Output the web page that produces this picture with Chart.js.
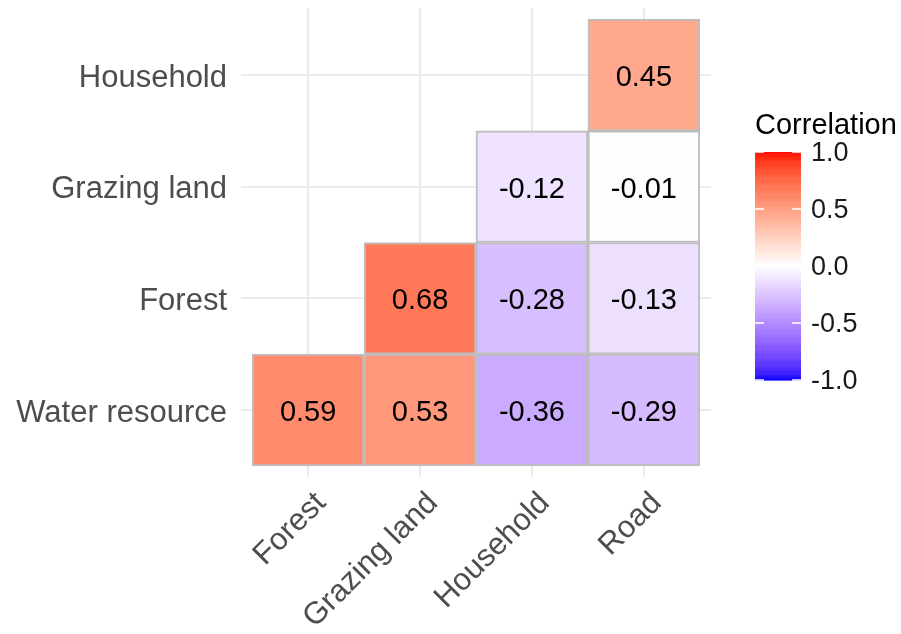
<!DOCTYPE html>
<html>
<head>
<meta charset="utf-8">
<script src="https://cdn.jsdelivr.net/npm/chart.js@4.4.1/dist/chart.umd.min.js"></script>
<style>
  html, body { margin: 0; padding: 0; background: #fff; }
  #wrap { width: 901px; height: 634px; }
</style>
</head>
<body>
<div id="wrap"><canvas id="chart" width="901" height="634"></canvas></div>
<script>
// Categories
const xCategories = ['Forest', 'Grazing land', 'Household', 'Road'];
const yCategories = ['Water resource', 'Forest', 'Grazing land', 'Household'];

// Correlation values per row (columns follow xCategories), lower triangle only
const rowWater = [0.59, 0.53, -0.36, -0.29];
const rowForest = [null, 0.68, -0.28, -0.13];
const rowGrazing = [null, null, -0.12, -0.01];
const rowHousehold = [null, null, null, 0.45];
const rows = [rowWater, rowForest, rowGrazing, rowHousehold];

// Legend
const legendTitle = 'Correlation';
const legendTicks = [1.0, 0.5, 0.0, -0.5, -1.0];

const FONT = "'Liberation Sans', Arial, sans-serif";

// --- diverging blue-white-red in Lab space ---
function toLab(rgb) {
  const lin = rgb.map(c => { c /= 255; return c <= 0.04045 ? c / 12.92 : Math.pow((c + 0.055) / 1.055, 2.4); });
  const X = (0.4124 * lin[0] + 0.3576 * lin[1] + 0.1805 * lin[2]) / 0.95047;
  const Y = (0.2126 * lin[0] + 0.7152 * lin[1] + 0.0722 * lin[2]);
  const Z = (0.0193 * lin[0] + 0.1192 * lin[1] + 0.9505 * lin[2]) / 1.08883;
  const f = t => t > 0.008856 ? Math.cbrt(t) : 7.787 * t + 16 / 116;
  const fx = f(X), fy = f(Y), fz = f(Z);
  return [116 * fy - 16, 500 * (fx - fy), 200 * (fy - fz)];
}
function fromLab(lab) {
  const fy = (lab[0] + 16) / 116, fx = fy + lab[1] / 500, fz = fy - lab[2] / 200;
  const inv = t => t * t * t > 0.008856 ? t * t * t : (t - 16 / 116) / 7.787;
  const X = inv(fx) * 0.95047, Y = inv(fy), Z = inv(fz) * 1.08883;
  const r = 3.2406 * X - 1.5372 * Y - 0.4986 * Z;
  const g = -0.9689 * X + 1.8758 * Y + 0.0415 * Z;
  const b = 0.0557 * X - 0.2040 * Y + 1.0570 * Z;
  return [r, g, b].map(c => {
    c = c <= 0.0031308 ? 12.92 * c : 1.055 * Math.pow(c, 1 / 2.4) - 0.055;
    return Math.round(Math.max(0, Math.min(1, c)) * 255);
  });
}
const labLow = toLab([0, 0, 255]), labMid = toLab([255, 255, 255]), labHigh = toLab([255, 0, 0]);
function corrColor(v) {
  const end = v >= 0 ? labHigh : labMid;
  const start = v >= 0 ? labMid : labLow;
  const t = v >= 0 ? v : v + 1;
  const lab = start.map((s, i) => s + (end[i] - s) * t);
  const c = fromLab(lab);
  return `rgb(${c[0]},${c[1]},${c[2]})`;
}

// Build cells
const cells = [];
rows.forEach((row, yi) => {
  row.forEach((v, xi) => {
    if (v === null) return;
    cells.push({ x: xi + 1, y: [yi + 0.5, yi + 1.5], v: v });
  });
});

const cellLabels = {
  id: 'cellLabels',
  afterDatasetsDraw(chart) {
    const ctx = chart.ctx;
    const meta = chart.getDatasetMeta(0);
    ctx.save();
    ctx.font = `29px ${FONT}`;
    ctx.fillStyle = '#000';
    ctx.textAlign = 'center';
    ctx.textBaseline = 'middle';
    meta.data.forEach((bar, i) => {
      const p = bar.getProps(['x', 'y', 'base'], true);
      ctx.fillText(cells[i].v.toFixed(2), p.x, (p.y + p.base) / 2 + 3);
    });
    ctx.restore();
  }
};

const colorBar = {
  id: 'colorBar',
  afterDraw(chart) {
    const ctx = chart.ctx;
    const x0 = 755, w = 46, top = 152, bottom = 380;
    ctx.save();
    ctx.font = `29px ${FONT}`;
    ctx.fillStyle = '#000';
    ctx.textAlign = 'left';
    ctx.textBaseline = 'middle';
    ctx.fillText(legendTitle, x0, 126);
    const steps = 200;
    for (let i = 0; i < steps; i++) {
      const v = 1 - 2 * (i + 0.5) / steps;
      ctx.fillStyle = corrColor(v);
      const y = top + (bottom - top) * i / steps;
      ctx.fillRect(x0, y, w, (bottom - top) / steps + 0.6);
    }
    ctx.strokeStyle = '#fff';
    ctx.lineWidth = 1.5;
    ctx.font = `27px ${FONT}`;
    ctx.fillStyle = '#1a1a1a';
    legendTicks.forEach(t => {
      const y = top + (1 - t) / 2 * (bottom - top);
      ctx.beginPath();
      ctx.moveTo(x0, y); ctx.lineTo(x0 + 9, y);
      ctx.moveTo(x0 + w - 9, y); ctx.lineTo(x0 + w, y);
      ctx.stroke();
      ctx.fillText(t.toFixed(1), 811, y + 2);
    });
    ctx.restore();
  }
};

new Chart(document.getElementById('chart'), {
  type: 'bar',
  data: {
    datasets: [{
      data: cells,
      backgroundColor: cells.map(c => corrColor(c.v)),
      borderColor: '#bebebe',
      borderWidth: 2,
      borderSkipped: false,
      categoryPercentage: 1,
      barPercentage: 1
    }]
  },
  options: {
    responsive: false,
    animation: false,
    layout: { padding: { top: 8, right: 190, left: 0, bottom: 0 } },
    plugins: { legend: { display: false }, tooltip: { enabled: false } },
    scales: {
      x: {
        type: 'linear',
        min: 0.4,
        max: 4.6,
        offset: false,
        afterBuildTicks: s => { s.ticks = xCategories.map((_, i) => ({ value: i + 1 })); },
        afterFit: s => { s.height = 157; s.paddingLeft = 0; s.paddingRight = 0; },
        grid: { color: '#ebebeb', lineWidth: 2, drawTicks: false, offset: false },
        border: { display: false },
        ticks: {
          callback: v => xCategories[v - 1],
          autoSkip: false,
          maxRotation: 45,
          minRotation: 45,
          padding: 8,
          labelOffset: 13,
          color: '#4d4d4d',
          font: { family: FONT, size: 31 }
        }
      },
      y: {
        type: 'linear',
        min: 0.4,
        max: 4.6,
        afterBuildTicks: s => { s.ticks = yCategories.map((_, i) => ({ value: i + 1 })); },
        afterFit: s => { s.width = 241; s.paddingTop = 0; s.paddingBottom = 0; },
        grid: { color: '#ebebeb', lineWidth: 2, drawTicks: false },
        border: { display: false },
        ticks: {
          callback: v => yCategories[v - 1],
          autoSkip: false,
          padding: 14,
          labelOffset: 3,
          color: '#4d4d4d',
          font: { family: FONT, size: 31 }
        }
      }
    }
  },
  plugins: [cellLabels, colorBar]
});
</script>
</body>
</html>
